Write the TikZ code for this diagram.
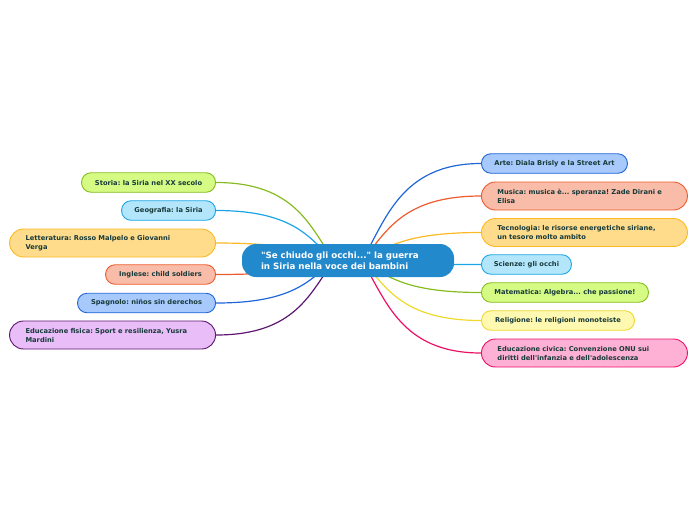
\documentclass[tikz,border=0pt]{standalone}
\usepackage{fontspec}
\setmainfont{DejaVu Sans}
\usepackage{xcolor}
\usepackage{tikz}
\usetikzlibrary{backgrounds}
\frenchspacing

\definecolor{testo}{HTML}{173A3A}
\definecolor{radicefill}{HTML}{2389CD}
\definecolor{verdeF}{HTML}{D6FB85}   \definecolor{verdeB}{HTML}{86BC1E}
\definecolor{celesteF}{HTML}{B4E6FB} \definecolor{celesteB}{HTML}{1BA5E6}
\definecolor{aranF}{HTML}{FFDC8C}    \definecolor{aranB}{HTML}{FDB924}
\definecolor{rossoF}{HTML}{F8BCA8}   \definecolor{rossoB}{HTML}{EF5B2C}
\definecolor{bluF}{HTML}{A8C9FC}     \definecolor{bluB}{HTML}{1F66D8}
\definecolor{violaF}{HTML}{E8BDF8}   \definecolor{violaB}{HTML}{5E1670}
\definecolor{giallF}{HTML}{FFF8B0}   \definecolor{giallB}{HTML}{EFD92C}
\definecolor{rosaF}{HTML}{FFB1D5}    \definecolor{rosaB}{HTML}{EC1166}

\begin{document}
\begin{tikzpicture}[x=1pt, y=-1pt,
    ramo/.style={draw, line width=0.9pt, rounded corners=9.5pt, minimum height=19.5pt,
        inner xsep=0pt, inner ysep=0pt, text=testo,
        font=\bfseries\fontsize{6.7}{9}\selectfont},
    ramo2/.style={ramo, rounded corners=14pt, minimum height=28pt, align=left,
        text width=174pt, inner xsep=16pt},
    linea/.style={line width=1.2pt}]
    \useasboundingbox (0,0) rectangle (696,520);

    % 1. Nodo centrale
    \node[fill=radicefill, rounded corners=14pt, minimum height=33pt, inner xsep=19pt,
          text width=174pt, align=left, text=white,
          font=\bfseries\fontsize{8.7}{11}\selectfont] (radice) at (348,260.5)
          {\textquotedbl Se chiudo gli occhi...\textquotedbl{} la guerra\\in Siria nella voce dei bambini};

    % 2. Rami a sinistra
    \node[ramo, fill=verdeF, draw=verdeB, minimum width=134pt, anchor=east] (storia) at (216,182.5) {Storia: la Siria nel XX secolo};
    \node[ramo, fill=celesteF, draw=celesteB, minimum width=94pt, anchor=east] (geografia) at (216,210.5) {Geografia: la Siria};
    \node[ramo2, fill=aranF, draw=aranB, anchor=east] (letteratura) at (216,243) {Letteratura: Rosso Malpelo e Giovanni\\Verga};
    \node[ramo, fill=rossoF, draw=rossoB, minimum width=110pt, anchor=east] (inglese) at (216,274.5) {Inglese: child soldiers};
    \node[ramo, fill=bluF, draw=bluB, minimum width=138pt, anchor=east] (spagnolo) at (216,303) {Spagnolo: niños sin derechos};
    \node[ramo2, fill=violaF, draw=violaB, anchor=east] (fisica) at (216,335) {Educazione fisica: Sport e resilienza, Yusra\\Mardini};

    % 3. Rami a destra
    \node[ramo, fill=bluF, draw=bluB, minimum width=146pt, anchor=west] (arte) at (481,163.5) {Arte: Diala Brisly e la Street Art};
    \node[ramo2, fill=rossoF, draw=rossoB, anchor=west] (musica) at (481,196) {Musica: musica è... speranza! Zade Dirani e\\Elisa};
    \node[ramo2, fill=aranF, draw=aranB, anchor=west] (tecnologia) at (481,232.5) {Tecnologia: le risorse energetiche siriane,\\un tesoro molto ambito};
    \node[ramo, fill=celesteF, draw=celesteB, minimum width=90pt, anchor=west] (scienze) at (481,264.5) {Scienze: gli occhi};
    \node[ramo, fill=verdeF, draw=verdeB, minimum width=167pt, anchor=west] (matematica) at (481,292.5) {Matematica: Algebra... che passione!};
    \node[ramo, fill=giallF, draw=giallB, minimum width=153pt, anchor=west] (religione) at (481,320.5) {Religione: le religioni monoteiste};
    \node[ramo2, fill=rosaF, draw=rosaB, anchor=west] (civica) at (481,353) {Educazione civica: Convenzione ONU sui\\diritti dell\textquotesingle infanzia e dell\textquotesingle adolescenza};

    % 4. Collegamenti dietro i nodi
    \begin{scope}[on background layer]
        \foreach \nodo/\col/\dy in {storia/verdeB/-32.6, geografia/celesteB/-20.8,
                letteratura/aranB/-7.1, inglese/rossoB/6.1, spagnolo/bluB/18.1, fisica/violaB/31.5}
            \draw[linea, \col] ([xshift=-14pt]radice.center) .. controls +(-23.6,\dy) and +(80,0) .. (\nodo.east);
        \foreach \nodo/\col/\dy in {arte/bluB/-40.5, musica/rossoB/-26.9, tecnologia/aranB/-11.6,
                scienze/celesteB/1.9, matematica/verdeB/13.7, religione/giallB/25.4, civica/rosaB/39.1}
            \draw[linea, \col] ([xshift=14pt]radice.center) .. controls +(23.8,\dy) and +(-80,0) .. (\nodo.west);
    \end{scope}
\end{tikzpicture}
\end{document}
